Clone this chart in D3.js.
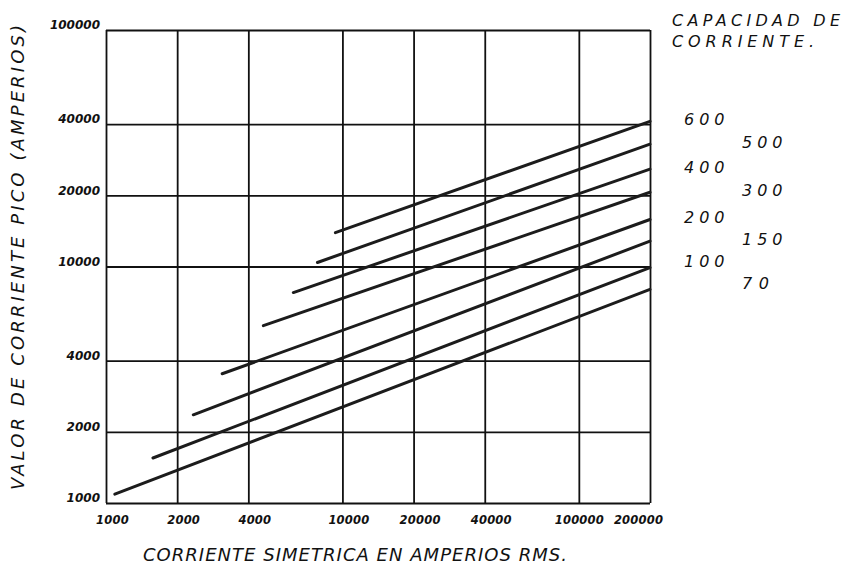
<!DOCTYPE html>
<html>
<head>
<meta charset="utf-8">
<script src="https://cdn.jsdelivr.net/npm/d3@7"></script>
<style>
  html, body { margin: 0; padding: 0; background: #fff; }
  svg { display: block; }
  text { fill: #111; }
</style>
</head>
<body>
<svg id="chart" width="844" height="575"></svg>
<script>
// ---- data ----
const xTicks = [1000, 2000, 4000, 10000, 20000, 40000, 100000, 200000];
const yTicks = [1000, 2000, 4000, 10000, 20000, 40000, 100000];
const capacities = ["600", "500", "400", "300", "200", "150", "100", "70"];
const startCurrent = [9340, 7840, 6200, 4630, 3100, 2340, 1580, 1090];
const startPeak    = [13900, 10400, 7760, 5620, 3520, 2360, 1550, 1090];
const endCurrent   = [200000, 200000, 200000, 200000, 200000, 200000, 200000, 200000];
const endPeak      = [41100, 32900, 25800, 20600, 15800, 12800, 9900, 8000];
const xTitle = "CORRIENTE SIMETRICA EN AMPERIOS RMS.";
const yTitle = "VALOR DE CORRIENTE   PICO (AMPERIOS)";
const legendTitle = ["CAPACIDAD DE", "CORRIENTE."];

// ---- layout ----
const svg = d3.select("#chart");
const mLeft = 106, mRight = 650, mTop = 30, mBottom = 503;
const x = d3.scaleLog().domain([1000, 200000]).range([mLeft, mRight]);
const y = d3.scaleLog().domain([1000, 100000]).range([mBottom, mTop]);

const tickFont = "'DejaVu Sans', sans-serif";

// x axis with grid
const gx = svg.append("g").attr("transform", `translate(0,${mBottom})`)
  .call(d3.axisBottom(x).tickValues(xTicks).tickFormat(d3.format("d"))
        .tickSize(-(mBottom - mTop)).tickPadding(13));
gx.select(".domain").remove();
gx.selectAll(".tick line").attr("stroke", "#111").attr("stroke-width", 1.8);
gx.selectAll(".tick text")
  .attr("font-family", tickFont).attr("font-weight", "bold").attr("font-style", "italic")
  .attr("font-size", 11.5).attr("letter-spacing", 0.2).attr("fill", "#111")
  .attr("dx", (d, i) => i === xTicks.length - 1 ? -12 : (i === xTicks.length - 2 ? 0 : 6));

// y axis with grid
const gy = svg.append("g").attr("transform", `translate(${mLeft},0)`)
  .call(d3.axisLeft(y).tickValues(yTicks).tickFormat(d3.format("d"))
        .tickSize(-(mRight - mLeft)).tickPadding(6));
gy.select(".domain").remove();
gy.selectAll(".tick line").attr("stroke", "#111").attr("stroke-width", 1.8);
gy.selectAll(".tick text")
  .attr("font-family", tickFont).attr("font-weight", "bold").attr("font-style", "italic")
  .attr("font-size", 12).attr("letter-spacing", 0).attr("fill", "#111")
  .attr("dy", "-0.1em");

// capacity lines
const lineGen = d3.line().x(d => x(d[0])).y(d => y(d[1]));
const series = capacities.map((c, i) => ({
  cap: c,
  pts: [[startCurrent[i], startPeak[i]], [endCurrent[i], endPeak[i]]]
}));
svg.append("g").selectAll("path").data(series).join("path")
  .attr("d", d => lineGen(d.pts))
  .attr("fill", "none").attr("stroke", "#1c1c1c")
  .attr("stroke-width", 3).attr("stroke-linecap", "round");

// capacity labels (two staggered columns)
const handFont = "'DejaVu Sans', sans-serif";
svg.append("g").selectAll("text").data(series).join("text")
  .attr("x", (d, i) => i % 2 === 0 ? 684 : 742)
  .attr("y", (d, i) => y(endPeak[i]) - (i >= 6 ? 6 : 2))
  .attr("dy", "0.35em")
  .attr("font-family", handFont).attr("font-style", "italic")
  .attr("font-size", 16)
  .attr("textLength", d => d.cap.length * 13.5).attr("lengthAdjust", "spacing")
  .text(d => d.cap);

// legend title
svg.append("g").selectAll("text").data(legendTitle).join("text")
  .attr("x", 672).attr("y", (d, i) => 26 + i * 21)
  .attr("font-family", handFont).attr("font-style", "italic")
  .attr("font-size", 16)
  .attr("textLength", (d, i) => i === 0 ? 168 : 142)
  .attr("lengthAdjust", "spacing")
  .text(d => d);

// x title
svg.append("text")
  .attr("x", 143).attr("y", 561)
  .attr("font-family", handFont).attr("font-style", "italic")
  .attr("font-size", 18)
  .attr("textLength", 424).attr("lengthAdjust", "spacing")
  .text(xTitle);

// y title
svg.append("text")
  .attr("transform", "translate(24,490) rotate(-90)")
  .attr("x", 0).attr("y", 0)
  .attr("font-family", handFont).attr("font-style", "italic")
  .attr("font-size", 18)
  .attr("textLength", 465).attr("lengthAdjust", "spacing")
  .text(yTitle);
</script>
</body>
</html>
